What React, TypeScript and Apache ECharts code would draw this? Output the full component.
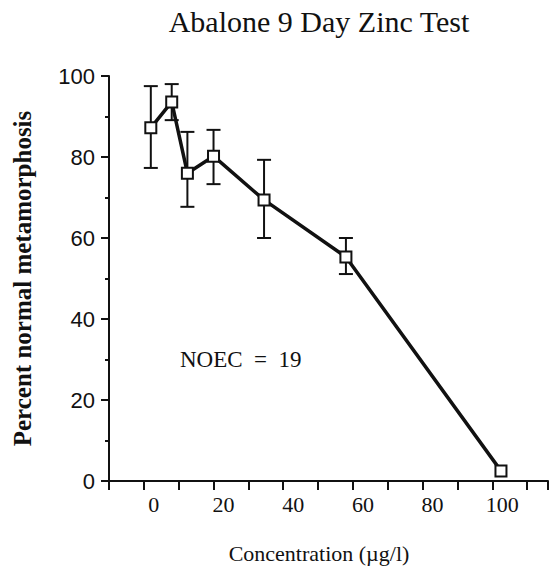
import React, { useEffect, useRef } from "react";
import * as echarts from "echarts";

const concentration = [2, 8, 12.5, 20, 34.5, 58, 102.5];
const meanPct = [87.2, 93.6, 76.0, 80.2, 69.4, 55.3, 2.5];
const upperPct: (number | null)[] = [97.5, 98.0, 86.2, 86.7, 79.3, 60.0, null];
const lowerPct: (number | null)[] = [77.3, 89.1, 67.7, 73.3, 60.0, 51.1, null];
const xTickLabels = [0, 20, 40, 60, 80, 100];
const yTickValues = [0, 20, 40, 60, 80, 100];
const titleText = "Abalone 9 Day Zinc Test";
const xTitle = "Concentration (\u00b5g/l)";
const yTitle = "Percent normal metamorphosis";
const noecText = "NOEC  =  19";
const X_MIN = -10;
const X_MAX = 116;

export default function App() {
  const ref = useRef<HTMLDivElement>(null);
  useEffect(() => {
    if (!ref.current) return;
    const chart = echarts.init(ref.current, null, { renderer: "svg" });
    const lineData = concentration.map((x, i) => [x, meanPct[i]]);
    const errData = concentration
      .map((x, i) => [x, lowerPct[i], upperPct[i]])
      .filter((d) => d[1] != null && d[2] != null);
    const serif = "Liberation Serif";
    chart.setOption({
      animation: false,
      backgroundColor: "#fff",
      grid: { left: 109, right: 12, top: 76, bottom: 90, containLabel: false, outerBoundsMode: "none" },
      graphic: [
        {
          type: "text",
          x: 319,
          y: 21,
          style: {
            text: titleText,
            font: `30px "Liberation Serif"`,
            fill: "#111",
            textAlign: "center",
            textVerticalAlign: "middle",
          },
        },
        {
          type: "text",
          x: 319,
          y: 553,
          style: {
            text: xTitle,
            font: `22px "Liberation Serif"`,
            fill: "#111",
            textAlign: "center",
            textVerticalAlign: "middle",
          },
        },
        {
          type: "text",
          x: 180,
          y: 359,
          style: {
            text: noecText,
            font: `23px "Liberation Serif"`,
            fill: "#111",
            textAlign: "left",
            textVerticalAlign: "middle",
          },
        },
      ],
      xAxis: {
        type: "value",
        min: X_MIN,
        max: X_MAX,
        interval: 10,
        splitLine: { show: false },
        axisLine: { show: true, onZero: false, lineStyle: { color: "#111", width: 2 } },
        axisTick: { show: true, inside: false, length: 9, lineStyle: { color: "#111", width: 2 } },
        axisLabel: {
          margin: 12,
          padding: [0, 0, 0, 20],
          fontFamily: serif,
          fontSize: 22,
          color: "#111",
          showMinLabel: true,
          showMaxLabel: true,
          formatter: (v: number) => (xTickLabels.includes(v) ? String(v) : ""),
        },
      },
      yAxis: {
        type: "value",
        position: "left",
        min: 0,
        max: 100,
        interval: 20,
        name: yTitle,
        nameLocation: "middle",
        nameGap: 74,
        nameRotate: 90,
        nameTextStyle: {
          fontFamily: serif,
          fontWeight: "bold",
          fontSize: 25,
          color: "#111",
        },
        splitLine: { show: false },
        axisLine: { show: true, onZero: false, lineStyle: { color: "#111", width: 2 } },
        axisTick: { show: true, inside: false, length: 8, lineStyle: { color: "#111", width: 2 } },
        minorTick: { show: true, splitNumber: 2, length: 4, lineStyle: { color: "#111", width: 2 } },
        axisLabel: {
          margin: 14,
          fontFamily: "Liberation Sans",
          fontSize: 22,
          color: "#111",
        },
      },
      series: [
        {
          type: "custom",
          z: 2,
          data: errData,
          renderItem: (params: any, api: any) => {
            const x = api.value(0);
            const top = api.coord([x, api.value(2)]);
            const bot = api.coord([x, api.value(1)]);
            const hw = 7;
            const style = { stroke: "#111", lineWidth: 2 };
            return {
              type: "group",
              children: [
                { type: "line", shape: { x1: top[0], y1: top[1], x2: bot[0], y2: bot[1] }, style },
                { type: "line", shape: { x1: top[0] - hw, y1: top[1], x2: top[0] + hw, y2: top[1] }, style },
                { type: "line", shape: { x1: bot[0] - hw, y1: bot[1], x2: bot[0] + hw, y2: bot[1] }, style },
              ],
            };
          },
        },
        {
          type: "line",
          z: 3,
          data: lineData,
          symbol: "rect",
          symbolSize: 11,
          lineStyle: { color: "#111", width: 3.5 },
          itemStyle: { color: "#fff", borderColor: "#111", borderWidth: 2 },
        },
      ],
    });

    // Y axis frame (line + major ticks) placed from the chart's own scale.
    const b = chart.convertToPixel({ gridIndex: 0 }, [X_MIN, yTickValues[0]]) as number[];
    const t = chart.convertToPixel({ gridIndex: 0 }, [X_MIN, yTickValues[yTickValues.length - 1]]) as number[];
    const frame: any[] = [
      {
        type: "line",
        z: 50,
        shape: { x1: b[0], y1: b[1] + 1, x2: t[0], y2: t[1] },
        style: { stroke: "#111", lineWidth: 2 },
      },
    ];
    yTickValues.forEach((v) => {
      const p = chart.convertToPixel({ gridIndex: 0 }, [X_MIN, v]) as number[];
      frame.push({
        type: "line",
        z: 50,
        shape: { x1: p[0] - 8, y1: p[1], x2: p[0], y2: p[1] },
        style: { stroke: "#111", lineWidth: 2 },
      });
    });
    chart.setOption({
      graphic: [
        {
          type: "text",
          x: 319,
          y: 21,
          style: {
            text: titleText,
            font: `30px "Liberation Serif"`,
            fill: "#111",
            textAlign: "center",
            textVerticalAlign: "middle",
          },
        },
        {
          type: "text",
          x: 319,
          y: 553,
          style: {
            text: xTitle,
            font: `22px "Liberation Serif"`,
            fill: "#111",
            textAlign: "center",
            textVerticalAlign: "middle",
          },
        },
        {
          type: "text",
          x: 180,
          y: 359,
          style: {
            text: noecText,
            font: `23px "Liberation Serif"`,
            fill: "#111",
            textAlign: "left",
            textVerticalAlign: "middle",
          },
        },
        ...frame,
      ],
    }, { replaceMerge: ["graphic"] });

    return () => chart.dispose();
  }, []);
  return (
    <div
      ref={ref}
      style={{ position: "fixed", left: 0, top: 0, width: 560, height: 571, background: "#fff" }}
    />
  );
}
